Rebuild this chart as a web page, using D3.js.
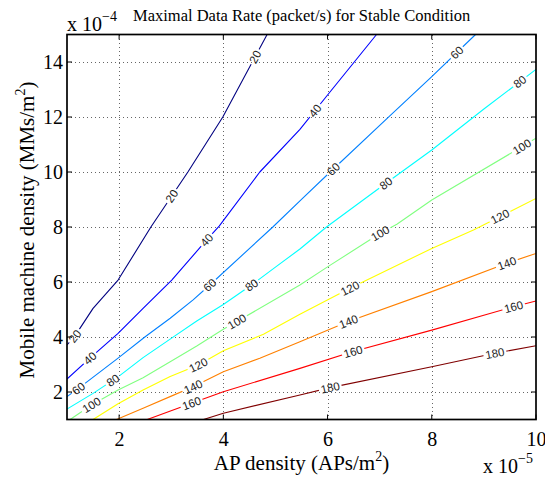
<!DOCTYPE html>
<html>
<head>
<meta charset="utf-8">
<script src="https://cdn.jsdelivr.net/npm/d3@7"></script>
<style>
  html, body { margin: 0; padding: 0; background: #fff; }
  svg { display: block; }
</style>
</head>
<body>
<svg id="chart" width="545" height="479"></svg>
<script>
// Contour levels (packet/s) and their jet colours
const levels = [20, 40, 60, 80, 100, 120, 140, 160, 180];
const levelColors = ["#000080", "#0000ff", "#0080ff", "#00ffff", "#80ff80",
                     "#ffff00", "#ff8000", "#ff0000", "#800000"];

// Iso-lines as [AP density (x1e-5), mobile machine density (x1e-4)]
const contour20  = [[1, 3.71], [1.15, 4.03], [1.5, 5.04], [1.98, 6.07], [2.61, 8.0],
                    [3.32, 10.0], [3.99, 12.0], [4.84, 15.0]];
const contour40  = [[1, 2.47], [1.44, 3.23], [1.98, 4.13], [2.46, 5.04], [3.01, 6.07],
                    [3.68, 7.53], [3.92, 8.03], [4.70, 10.0], [5.47, 11.55], [6.0, 12.8],
                    [6.94, 15.0]];
const contour60  = [[1, 1.83], [1.22, 2.13], [1.98, 3.23], [2.5, 4.01], [2.98, 4.68],
                    [3.42, 5.35], [3.74, 5.89], [4.95, 8.0], [5.47, 8.95], [6.05, 10.0],
                    [7.2, 12.05], [8.0, 13.47], [8.84, 15.0]];
const contour80  = [[1, 1.38], [1.5, 1.95], [1.98, 2.55], [2.46, 3.25], [3.0, 3.95],
                    [3.49, 4.58], [4.0, 5.18], [4.54, 5.89], [5.0, 6.54], [5.47, 7.2],
                    [5.98, 8.0], [7.12, 9.59], [8.0, 10.8], [9.0, 12.29], [10, 13.73]];
const contour100 = [[1.06, 1.0], [1.47, 1.53], [1.98, 2.07], [2.46, 2.52], [2.98, 3.1],
                    [3.49, 3.67], [4.0, 4.28], [4.26, 4.56], [5.47, 5.89], [6.0, 6.55],
                    [7.01, 7.77], [7.33, 8.1], [8.0, 8.98], [9.73, 10.92], [10, 11.23]];
const contour120 = [[1.5, 1.0], [1.98, 1.57], [2.46, 2.07], [2.98, 2.56], [3.52, 2.98],
                    [4.0, 3.5], [4.77, 4.1], [5.47, 4.83], [6.43, 5.77], [8.0, 7.22],
                    [8.8, 7.89], [10, 9.04]];
const contour140 = [[1.95, 1.0], [2.46, 1.41], [3.0, 1.85], [3.42, 2.19], [4.0, 2.74],
                    [4.7, 3.23], [5.47, 3.83], [6.4, 4.56], [8.0, 5.65], [9.44, 6.68],
                    [10, 7.04]];
const contour160 = [[2.54, 1.0], [3.39, 1.59], [4.0, 2.01], [5.47, 2.86], [6.49, 3.47],
                    [8.0, 4.25], [9.57, 5.1], [10, 5.31]];
const contour180 = [[3.62, 1.0], [4.0, 1.23], [5.47, 1.89], [6.05, 2.16], [8.0, 2.92],
                    [9.21, 3.41], [10, 3.68]];
const contourLines = [contour20, contour40, contour60, contour80, contour100,
                      contour120, contour140, contour160, contour180];

// AP densities where each level carries an inline label
const labels20  = [1.15, 3.01, 4.61];
const labels40  = [1.44, 3.68, 5.76];
const labels60  = [1.22, 3.74, 6.11, 8.48];
const labels80  = [1.88, 4.54, 7.12, 9.69];
const labels100 = [1.47, 4.26, 7.01, 9.73];
const labels120 = [3.52, 6.43, 9.31];
const labels140 = [3.42, 6.4, 9.44];
const labels160 = [3.39, 6.49, 9.57];
const labels180 = [6.05, 9.21];
const labelPlaces = [labels20, labels40, labels60, labels80, labels100,
                     labels120, labels140, labels160, labels180];

const xTicks = [2, 4, 6, 8, 10];
const yTicks = [2, 4, 6, 8, 10, 12, 14];
const xDomain = [1, 10];
const yDomain = [1, 15];

const titleText = "Maximal Data Rate (packet/s) for Stable Condition";

// ---------------------------------------------------------------
const svg = d3.select("#chart");
const L = 67, R = 536, T = 34.5, B = 419.5;
const x = d3.scaleLinear().domain(xDomain).range([L, R]);
const y = d3.scaleLinear().domain(yDomain).range([B, T]);
const serif = "'Liberation Serif', 'Times New Roman', serif";
const sans = "'Liberation Sans', Arial, Helvetica, sans-serif";

svg.append("rect").attr("width", 545).attr("height", 479).attr("fill", "#fff");

// dotted grid
const grid = svg.append("g").attr("stroke", "#666").attr("stroke-width", 1)
  .attr("stroke-dasharray", "1,3").attr("shape-rendering", "crispEdges");
grid.selectAll("line.gx").data(xTicks.filter(v => v < xDomain[1])).join("line")
  .attr("x1", d => Math.round(x(d)) + 0.5).attr("x2", d => Math.round(x(d)) + 0.5)
  .attr("y1", B).attr("y2", T);
grid.selectAll("line.gy").data(yTicks).join("line")
  .attr("y1", d => Math.round(y(d)) + 0.5).attr("y2", d => Math.round(y(d)) + 0.5)
  .attr("x1", L).attr("x2", R);

// helpers to locate label anchors on a polyline
function interpY(pts, xv) {
  for (let i = 0; i < pts.length - 1; i++) {
    const a = pts[i], b = pts[i + 1];
    if (xv >= a[0] && xv <= b[0]) {
      const t = (xv - a[0]) / (b[0] - a[0]);
      return a[1] + t * (b[1] - a[1]);
    }
  }
  return pts[pts.length - 1][1];
}

const defs = svg.append("defs");
defs.append("clipPath").attr("id", "plotClip")
  .append("rect").attr("x", L).attr("y", T).attr("width", R - L).attr("height", B - T);
const mask = defs.append("mask").attr("id", "labelGaps").attr("maskUnits", "userSpaceOnUse")
  .attr("x", 0).attr("y", 0).attr("width", 545).attr("height", 479);
mask.append("rect").attr("x", 0).attr("y", 0).attr("width", 545).attr("height", 479).attr("fill", "#fff");

const linesG = svg.append("g").attr("clip-path", "url(#plotClip)").attr("mask", "url(#labelGaps)");
const labelG = svg.append("g");
const line = d3.line().x(d => x(d[0])).y(d => y(d[1]));

levels.forEach((lv, i) => {
  const pts = contourLines[i];
  linesG.append("path").attr("d", line(pts))
    .attr("fill", "none").attr("stroke", levelColors[i]).attr("stroke-width", 1.1)
    .attr("stroke-linejoin", "round");

  labelPlaces[i].forEach(xv => {
    const px = x(xv), py = y(interpY(pts, xv));
    const x0 = Math.max(xDomain[0], xv - 0.2), x1 = Math.min(xDomain[1], xv + 0.2);
    const ang = Math.atan2(y(interpY(pts, x1)) - y(interpY(pts, x0)), x(x1) - x(x0)) * 180 / Math.PI;
    const tr = `translate(${px},${py}) rotate(${ang})`;
    const t = labelG.append("text").attr("transform", tr)
      .attr("text-anchor", "middle").attr("dy", "0.36em")
      .attr("font-family", sans).attr("font-size", 11.5).attr("fill", "#1c1c1c")
      .text(lv);
    const w = t.node().getComputedTextLength();
    mask.append("rect").attr("transform", tr)
      .attr("x", -w / 2 - 2).attr("y", -6).attr("width", w + 4).attr("height", 12)
      .attr("fill", "#000");
  });
});

// inward ticks on all four sides
const tickLen = 5;
const ticks = svg.append("g").attr("stroke", "#000").attr("stroke-width", 1);
xTicks.forEach(v => {
  ticks.append("line").attr("x1", x(v)).attr("x2", x(v)).attr("y1", B).attr("y2", B - tickLen);
  ticks.append("line").attr("x1", x(v)).attr("x2", x(v)).attr("y1", T).attr("y2", T + tickLen);
});
yTicks.forEach(v => {
  ticks.append("line").attr("y1", y(v)).attr("y2", y(v)).attr("x1", L).attr("x2", L + tickLen);
  ticks.append("line").attr("y1", y(v)).attr("y2", y(v)).attr("x1", R).attr("x2", R - tickLen);
});

// frame
svg.append("rect").attr("x", L).attr("y", T).attr("width", R - L).attr("height", B - T)
  .attr("fill", "none").attr("stroke", "#000").attr("stroke-width", 1.7);

// tick labels through d3 axes (tick lines drawn above)
const xAxis = svg.append("g").attr("transform", `translate(0,${B})`)
  .call(d3.axisBottom(x).tickValues(xTicks).tickSize(0).tickPadding(12).tickFormat(d3.format("d")));
const yAxis = svg.append("g").attr("transform", `translate(${L},0)`)
  .call(d3.axisLeft(y).tickValues(yTicks).tickSize(0).tickPadding(4).tickFormat(d3.format("d")));
[xAxis, yAxis].forEach(g => {
  g.select(".domain").remove();
  g.selectAll("text").attr("font-family", serif).attr("font-size", 20).attr("fill", "#000");
});

// exponent multipliers
function multiplier(px, py, exp) {
  const t = svg.append("text").attr("x", px).attr("y", py)
    .attr("font-family", serif).attr("font-size", 20).attr("fill", "#000");
  t.append("tspan").text("x 10");
  t.append("tspan").attr("dy", -10).attr("font-size", 14).text("\u2212" + exp);
}
multiplier(67, 31, 4);
multiplier(483, 473, 5);

// title
svg.append("text").attr("x", 133).attr("y", 20.5)
  .attr("font-family", serif).attr("font-size", 16.5).attr("fill", "#000")
  .text(titleText);

// axis labels
const xl = svg.append("text").attr("x", (L + R) / 2).attr("y", 470)
  .attr("text-anchor", "middle").attr("font-family", serif).attr("font-size", 21).attr("fill", "#000");
xl.append("tspan").text("AP density (APs/m");
xl.append("tspan").attr("dy", -9).attr("font-size", 14).text("2");
xl.append("tspan").attr("dy", 9).text(")");

const yl = svg.append("text").attr("transform", `translate(34,${(T + B) / 2 + 3}) rotate(-90)`)
  .attr("text-anchor", "middle").attr("font-family", serif).attr("font-size", 21).attr("fill", "#000");
yl.append("tspan").text("Mobile machine density (MMs/m");
yl.append("tspan").attr("dy", -9).attr("font-size", 14).text("2");
yl.append("tspan").attr("dy", 9).text(")");
</script>
</body>
</html>
